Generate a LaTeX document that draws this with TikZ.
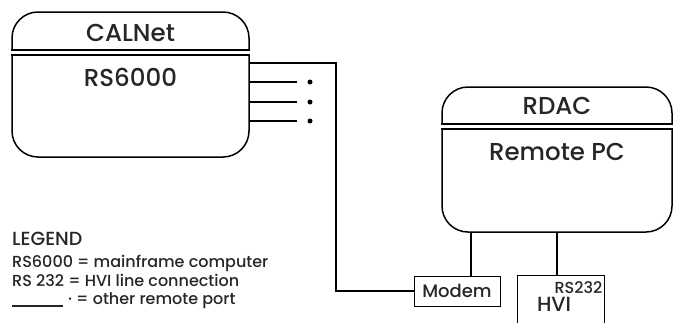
\documentclass[tikz,border=0pt]{standalone}
\usepackage{fontspec}
\setmainfont{Poppins}[UprightFont={* Medium}]
\usetikzlibrary{positioning}

\begin{document}
\begin{tikzpicture}[
		x=1pt, y=-1pt,
		sys/.style={draw, line width=1.5pt, rounded corners=26pt, minimum width=232pt, minimum height=145pt, inner sep=0pt},
		head/.style={font=\fontsize{24.5}{29}\selectfont, text=black!85, inner sep=0pt},
		sep/.style={line width=2pt, double, double distance=3.5pt},
		port/.style={draw, line width=1pt, inner sep=0pt, font=\fontsize{18}{21}\selectfont, text=black!85},
		small/.style={font=\fontsize{16}{18}\selectfont, text=black!85, inner sep=0pt},
		legend/.style={font=\fontsize{16}{18.5}\selectfont, text=black!85, inner sep=0pt, align=left},
		wire/.style={line width=1.5pt},
		dot/.style={circle, fill=black, inner sep=0pt, minimum size=5pt}
		]
		
		\useasboundingbox (0,0) rectangle (673,322);
		\clip (0,0) rectangle (673,322);
		
		% ==========================================
		% HOST: CALNet
		% ==========================================
		\node[sys, minimum width=237pt] (calnet) at (130.5,84.5) {};
		\node[head, below=13pt of calnet.north] (calnet_t) {CALNet};
		\node[head, below=57pt of calnet.north] (calnet_b) {RS6000};
		\draw[sep] ([yshift=-41pt]calnet.north west) -- ([yshift=-41pt]calnet.north east);
		
		% remote ports
		\foreach \y [count=\i] in {82,102,121} {
			\node[dot] (dot\i) at (310,\y) {};
			\coordinate (end\i) at (297,\y);
			\draw[wire] (calnet.east |- end\i) -- (end\i);
		}
		
		% ==========================================
		% REMOTE: RDAC
		% ==========================================
		\node[sys, minimum width=230pt] (rdac) at (557,159.5) {};
		\node[head, below=11pt of rdac.north] (rdac_t) {RDAC};
		\node[head, below=57pt of rdac.north] (rdac_b) {Remote PC};
		\draw[sep] ([yshift=-40pt]rdac.north west) -- ([yshift=-40pt]rdac.north east);
		
		\node[port, minimum width=86pt, minimum height=30pt] (modem) at (457,291) {Modem};
		\node[port, minimum width=87pt, minimum height=65pt] (hvi) at (560.5,307.5) {};
		\node[small, below left=7pt and 2pt of hvi.north east] (hvi_rs) {RS232};
		\node[port, draw=none, font=\fontsize{20.5}{24}\selectfont, below right=22pt and 20pt of hvi.north west] (hvi_t) {HVI};
		
		\draw[wire] ([xshift=14pt]modem.north) -- ([xshift=14pt]modem.north |- rdac.south);
		\draw[wire] (rdac.south) -- (rdac.south |- hvi.north);
		
		% line to modem
		\coordinate (bend) at (336,63);
		\draw[wire] (calnet.east |- bend) -| (modem.west -| bend) -- (modem.west);
		
		% ==========================================
		% LEGEND
		% ==========================================
		\node[legend, font=\fontsize{19}{22}\selectfont, anchor=north west] (legend_t) at (12,232) {LEGEND};
		\node[legend, anchor=north west] (legend_b) at (12,255) {
			RS6000 = mainframe computer \\
			RS 232 = HVI line connection \\
			\rule[-2pt]{51pt}{1.2pt}\hspace{5pt}· = other remote port
		};
		
	\end{tikzpicture}
\end{document}
